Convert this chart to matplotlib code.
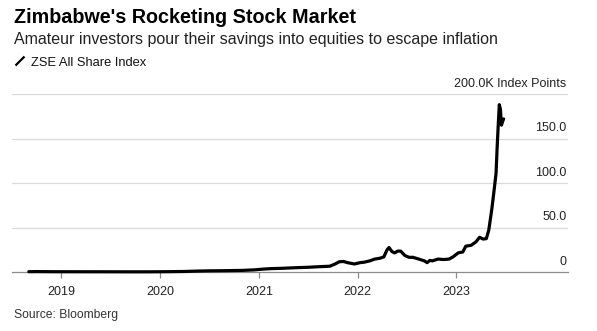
import matplotlib
matplotlib.use("Agg")
import matplotlib.pyplot as plt
import matplotlib.dates as mdates
import matplotlib.transforms as mtransforms
from matplotlib.lines import Line2D
import pandas as pd

plt.rcParams['font.family'] = ['Liberation Sans', 'DejaVu Sans']

title = "Zimbabwe's Rocketing Stock Market"
subtitle = "Amateur investors pour their savings into equities to escape inflation"
series_name = "ZSE All Share Index"
source = "Source: Bloomberg"

dates = [
    "2018-09-03", "2018-10-01", "2018-11-01", "2018-12-01", "2019-02-01", "2019-04-01",
    "2019-06-01", "2019-08-01", "2019-10-01", "2019-12-01", "2020-02-01", "2020-04-01",
    "2020-05-15", "2020-07-01", "2020-09-01", "2020-11-01", "2020-12-15", "2021-01-15",
    "2021-02-15", "2021-04-01", "2021-05-15", "2021-07-01", "2021-08-15", "2021-09-20",
    "2021-10-10", "2021-10-25", "2021-11-10", "2021-11-25", "2021-12-20", "2022-01-10",
    "2022-01-25", "2022-02-15", "2022-03-05", "2022-03-25", "2022-04-08", "2022-04-20",
    "2022-04-27", "2022-05-08", "2022-05-17", "2022-05-30", "2022-06-09", "2022-06-25",
    "2022-07-10", "2022-07-25", "2022-08-15", "2022-09-05", "2022-09-15", "2022-09-25",
    "2022-10-05", "2022-10-25", "2022-11-15", "2022-12-05", "2022-12-20", "2023-01-08",
    "2023-01-25", "2023-02-05", "2023-02-25", "2023-03-15", "2023-03-28", "2023-04-10",
    "2023-04-22", "2023-05-01", "2023-05-12", "2023-05-20", "2023-05-28", "2023-06-01",
    "2023-06-05", "2023-06-09", "2023-06-13", "2023-06-17", "2023-06-21", "2023-06-25",
]
values = [
    0.35, 0.45, 0.4, 0.32, 0.3, 0.27,
    0.25, 0.22, 0.2, 0.22, 0.35, 0.6,
    1.0, 1.3, 1.5, 1.8, 2.4, 3.2,
    3.8, 4.2, 4.8, 5.3, 6.0, 6.5,
    9.0, 11.5, 11.8, 10.5, 9.0, 10.5,
    11.0, 12.5, 14.5, 15.5, 17.0, 25.0,
    27.5, 23.0, 21.5, 23.5, 23.5, 18.5,
    16.5, 16.5, 14.5, 12.5, 10.5, 13.0,
    12.5, 14.5, 14.0, 14.5, 17.0, 21.5,
    22.5, 29.0, 30.0, 34.0, 39.0, 37.0,
    37.5, 47.0, 70.0, 90.0, 111.0, 140.0,
    165.0, 188.0, 183.0, 165.0, 169.0, 172.0,
]

x_tick_years = [2019, 2020, 2021, 2022, 2023]
y_ticks = [0, 50, 100, 150, 200]
y_tick_labels = ["0", "50.0", "100.0", "150.0", "200.0K Index Points"]

W, H = 597, 331
fig = plt.figure(figsize=(W / 100, H / 100), dpi=100)

def fx(px):
    return px / W

def fy(py):
    return 1 - py / H

ax = fig.add_axes([fx(12), fy(272), fx(568) - fx(12), fy(94) - fy(272)])

x = pd.to_datetime(dates)
ax.plot(x, values, color="black", lw=2.3, solid_joinstyle="round",
        solid_capstyle="round", clip_on=False, zorder=3)

ax.set_xlim(pd.Timestamp("2018-07-03"), pd.Timestamp("2024-02-18"))
ax.set_ylim(0, 200)

for s in ["top", "right", "left"]:
    ax.spines[s].set_visible(False)
ax.spines["bottom"].set_color("#8c8c8c")
ax.spines["bottom"].set_linewidth(0.9)

ax.set_xticks([pd.Timestamp(f"{yr}-01-01") for yr in x_tick_years])
ax.set_xticklabels([str(yr) for yr in x_tick_years])
ax.tick_params(axis="x", length=4.2, width=0.9, color="#8c8c8c",
               labelsize=9, labelcolor="#222222", pad=6)
ax.set_yticks([])
for v in y_ticks[1:]:
    ax.axhline(v, color="#dadada", lw=0.9, zorder=1)

trans = mtransforms.offset_copy(ax.get_yaxis_transform(), fig=fig, x=-1.5, y=7.3, units="dots")
for v, lab in zip(y_ticks, y_tick_labels):
    ax.text(1.0, v, lab, transform=trans, ha="right", va="baseline",
            fontsize=9, color="#222222")

fig.text(fx(14), fy(22.7), title, fontsize=14.2, fontweight="bold",
         color="black", va="baseline", ha="left")
fig.text(fx(14), fy(44), subtitle, fontsize=11.55, color="#222222",
         va="baseline", ha="left")
fig.add_artist(Line2D([fx(15.5), fx(24.5)], [fy(65.5), fy(56.5)],
                      transform=fig.transFigure, color="black", lw=1.6,
                      solid_capstyle="butt"))
fig.text(fx(31), fy(66), series_name, fontsize=9.3, color="#111111",
         va="baseline", ha="left")
fig.text(fx(13.5), fy(318), source, fontsize=8.7, color="#333333",
         va="baseline", ha="left")

fig.savefig("out.png", dpi=100, facecolor="white")
